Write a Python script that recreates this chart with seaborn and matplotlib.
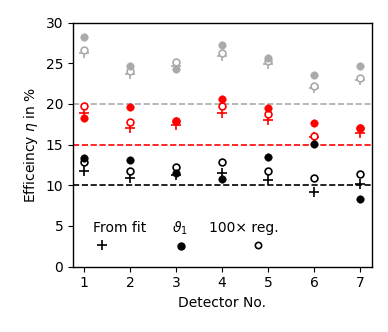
import matplotlib
matplotlib.use("Agg")
import matplotlib.pyplot as plt
from matplotlib.lines import Line2D
from matplotlib.legend import Legend
import seaborn as sns
import pandas as pd

detectors = [1, 2, 3, 4, 5, 6, 7]

# gray group (reference 20 %)
gray_fit = [26.3, 23.7, 24.6, 25.9, 24.9, 21.9, 22.9]
gray_theta = [28.2, 24.7, 24.3, 27.3, 25.6, 23.5, 24.6]
gray_reg = [26.6, 24.0, 25.1, 26.3, 25.3, 22.2, 23.2]

# red group (reference 15 %)
red_fit = [18.9, 17.0, 17.4, 18.9, 18.0, 15.9, 16.4]
red_theta = [18.25, 19.6, 17.9, 20.6, 19.5, 17.7, 17.05]
red_reg = [19.7, 17.8, 17.95, 19.7, 18.7, 16.1, 17.0]

# black group (reference 10 %)
black_fit = [11.7, 10.9, 11.2, 11.5, 10.6, 9.2, 10.1]
black_theta = [13.4, 13.1, 11.5, 10.8, 13.5, 15.05, 8.3]
black_reg = [12.8, 11.7, 12.2, 12.8, 11.7, 10.95, 11.4]

reference_levels = [20, 15, 10]
group_colors = ["#aaaaaa", "#ff0000", "#000000"]

legend_labels = ["From fit", r"$\vartheta_1$", "100× reg."]

fig = plt.figure(figsize=(3.88, 3.32), dpi=100)
ax = fig.add_axes([0.188, 0.197, 0.770, 0.735])

groups = [
    (gray_fit, gray_theta, gray_reg),
    (red_fit, red_theta, red_reg),
    (black_fit, black_theta, black_reg),
]

for (fit, theta, reg), level, col in zip(groups, reference_levels, group_colors):
    ax.axhline(level, color=col, ls="--", lw=1.2, zorder=1)
    df = pd.DataFrame({"det": detectors, "fit": fit, "theta": theta, "reg": reg})
    sns.scatterplot(data=df, x="det", y="fit", marker="+", s=55, color=col,
                    linewidth=1.2, ax=ax, zorder=3)
    sns.scatterplot(data=df, x="det", y="reg", marker="o", s=24, facecolor="white",
                    edgecolor=col, linewidth=1.2, ax=ax, zorder=4)
    sns.scatterplot(data=df, x="det", y="theta", marker="o", s=30, color=col,
                    edgecolor=col, linewidth=0.3, ax=ax, zorder=5)

ax.set_xlim(0.76, 7.25)
ax.set_ylim(0, 30)
ax.set_xticks(detectors)
ax.set_yticks([0, 5, 10, 15, 20, 25, 30])
ax.set_xlabel("Detector No.", fontsize=10)
ax.set_ylabel(r"Efficeincy $\eta$ in %", fontsize=10)
ax.tick_params(labelsize=10)
for sp in ax.spines.values():
    sp.set_linewidth(1.0)

# legend: text on top, marker below
handles_markers = [
    Line2D([], [], ls="none", marker="+", ms=7, mew=1.2, color="black"),
    Line2D([], [], ls="none", marker="o", ms=5, color="black"),
    Line2D([], [], ls="none", marker="o", ms=4.5, mfc="white", mec="black", mew=1.2),
]
anchors_x = [0.068, 0.333, 0.456]
anchors_y = [0.187, 0.194, 0.187]
hlens = [1.25, 1.25, 7.0]
spacings = [0.3, 0.2, 0.3]
for lab, hm, x0, y0, hl, sp_ in zip(legend_labels, handles_markers, anchors_x,
                                     anchors_y, hlens, spacings):
    blank = Line2D([], [], ls="none", marker=None)
    leg = Legend(ax, [blank, hm], [lab, " "], loc="upper left",
                 bbox_to_anchor=(x0, y0), frameon=False, fontsize=10,
                 handlelength=hl, handletextpad=-hl, borderpad=0,
                 borderaxespad=0, labelspacing=sp_, numpoints=1)
    ax.add_artist(leg)

fig.savefig("out.png", dpi=100)
